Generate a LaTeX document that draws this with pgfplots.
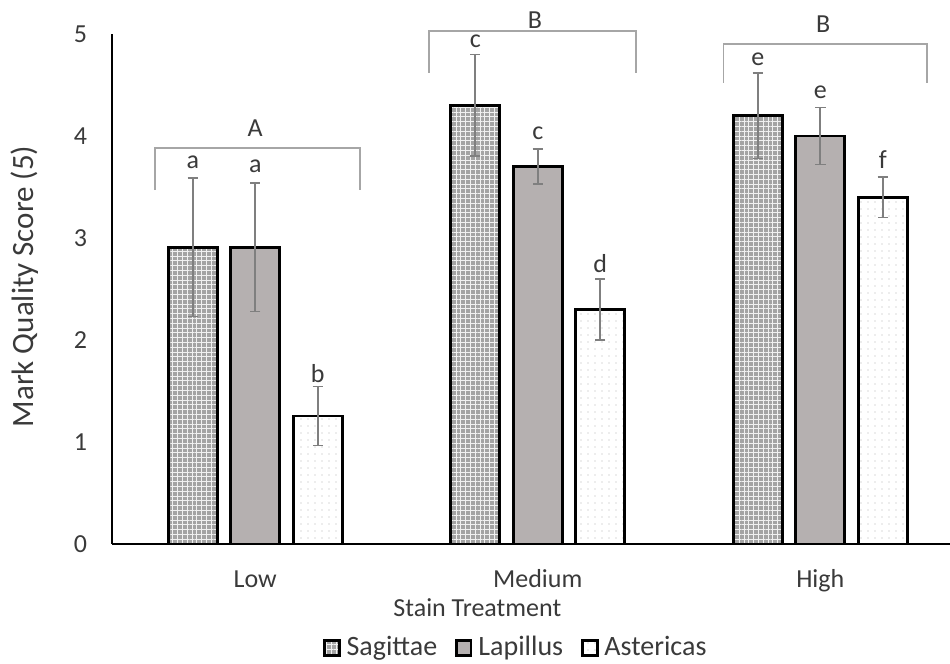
\documentclass[border=0pt]{standalone}
\usepackage{pgfplots}
\pgfplotsset{compat=1.18}
\usepackage{fontspec}
\setmainfont{Carlito}
\usetikzlibrary{patterns,patterns.meta}
\definecolor{txt}{HTML}{3A3A3A}
\definecolor{lap}{HTML}{B5B0B0}
\definecolor{sag}{HTML}{A4A4A4}
\definecolor{errc}{HTML}{7F7F7F}
\definecolor{brk}{HTML}{A6A6A6}
\pgfplotsset{mylegend/.style={legend image code/.code={\draw[##1,line width=1.2pt] (0pt,-3.7pt) rectangle (7.4pt,3.7pt);}}}
\begin{document}
\fontsize{13}{15}\selectfont
\begin{tikzpicture}
\begin{axis}[
 at={(0,0)}, anchor=south west,
 scale only axis, width=419pt, height=255pt,
 xmin=-0.507, xmax=2.459, ymin=0, ymax=5,
 axis x line=bottom, axis y line=left,
 axis line style={-, black, line width=1.2pt},
 ybar=6.75pt, bar width=24.5pt,
 xtick={0,1,2}, xticklabels={Low,Medium,High},
 ytick={0,1,2,3,4,5},
 major tick length=0pt,
 tick label style={text=txt},
 xticklabel style={anchor=base, yshift=-22pt},
 yticklabel style={anchor=east, xshift=-8pt},
 /pgf/number format/assume math mode=true,
 xlabel={Stain Treatment}, ylabel={Mark Quality Score (5)},
 xlabel style={at={(axis description cs:0.436,-0.1255)}, anchor=center, text=txt},
 ylabel style={at={(axis description cs:-0.1038,0.505)}, anchor=center, text=txt, font=\fontsize{15.5}{17}\selectfont},
 clip=false,
 legend columns=3,
 legend style={at={(axis description cs:0.482,-0.204)}, anchor=center, draw=none, fill=none,
   text=txt, font=\fontsize{14}{16}\selectfont,
   /tikz/every even column/.append style={column sep=8pt},
   /tikz/every odd column/.append style={column sep=2pt},
   nodes={inner sep=1pt}},
 legend cell align=left,
 error bars/error bar style={errc, line width=0.9pt},
 error bars/error mark options={rotate=90, mark size=2.6pt, errc, line width=0.9pt},
]
\addplot[mylegend, draw=black, line width=1.35pt, preaction={fill=sag}, pattern={Hatch[distance=2.4pt,angle=0,line width=0.35pt]}, pattern color=white!85!sag,
  error bars/.cd, y dir=both, y explicit]
  coordinates {(0,2.91) +- (0,0.68) (1,4.30) +- (0,0.50) (2,4.20) +- (0,0.42)};
\addlegendentry{Sagittae}
\addplot[mylegend, draw=black, line width=1.35pt, fill=lap,
  error bars/.cd, y dir=both, y explicit]
  coordinates {(0,2.91) +- (0,0.63) (1,3.70) +- (0,0.17) (2,4.00) +- (0,0.28)};
\addlegendentry{Lapillus}
\addplot[mylegend, draw=black, line width=1.35pt, preaction={fill=white}, pattern={Dots[distance=3.5pt,radius=0.35pt]}, pattern color=gray!60,
  error bars/.cd, y dir=both, y explicit]
  coordinates {(0,1.255) +- (0,0.29) (1,2.30) +- (0,0.30) (2,3.40) +- (0,0.20)};
\addlegendentry{Astericas}
% significance brackets
\draw[brk, line width=0.9pt] (axis cs:-0.354,3.47) -- (axis cs:-0.354,3.88) -- (axis cs:0.372,3.88) -- (axis cs:0.372,3.47);
\draw[brk, line width=0.9pt] (axis cs:0.614,4.62) -- (axis cs:0.614,5.03) -- (axis cs:1.349,5.03) -- (axis cs:1.349,4.62);
\draw[brk, line width=0.9pt] (axis cs:1.657,4.52) -- (axis cs:1.657,4.90) -- (axis cs:2.379,4.90) -- (axis cs:2.379,4.52);
\node[text=txt] at (axis cs:0.0,4.08) {A};
\node[text=txt] at (axis cs:0.99,5.14) {B};
\node[text=txt] at (axis cs:2.01,5.10) {B};
% letters
\node[text=txt] at (axis cs:-0.221,3.74) {a};
\node[text=txt] at (axis cs:0,3.70) {a};
\node[text=txt] at (axis cs:0.221,1.67) {b};
\node[text=txt] at (axis cs:0.779,4.93) {c};
\node[text=txt] at (axis cs:1,4.03) {c};
\node[text=txt] at (axis cs:1.221,2.75) {d};
\node[text=txt] at (axis cs:1.779,4.75) {e};
\node[text=txt] at (axis cs:2,4.43) {e};
\node[text=txt] at (axis cs:2.221,3.77) {f};
\end{axis}
\pgfresetboundingbox
\path (-56pt,-60pt) rectangle (419pt,272pt);
\end{tikzpicture}
\end{document}
